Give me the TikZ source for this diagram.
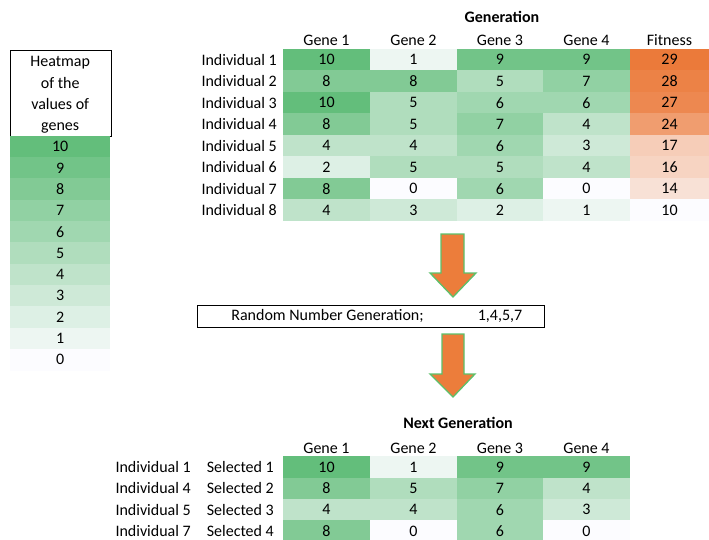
\documentclass[tikz,border=0pt]{standalone}
\usepackage{fontspec}
\setmainfont{Carlito}
\definecolor{hg}{HTML}{63BE7B}
\definecolor{hw}{HTML}{FCFCFF}
\definecolor{ho}{HTML}{EB7A3A}
\definecolor{arrfill}{HTML}{EC7D3B}
\definecolor{arredge}{HTML}{5CC06A}
\begin{document}
\begin{tikzpicture}[x=1pt,y=-1pt,
  every node/.style={font=\fontsize{16}{21}\selectfont, inner sep=0pt},
  cell/.style={rectangle, minimum height=21.6pt, anchor=center},
  gcellw/.style={cell, minimum width=87pt},
  fcellw/.style={cell, minimum width=79pt},
  lab/.style={anchor=east},
  hdr/.style={anchor=center},
  ttl/.style={anchor=center, font=\fontsize{16}{21}\selectfont\bfseries},
  blockarrow/.style={fill=arrfill, draw=arredge, line width=1.3pt, line join=miter},
  frame/.style={draw=black, line width=1.1pt}]
\useasboundingbox (0,0) rectangle (709,540);

% ---------- legend ----------
\node[frame, rectangle, minimum width=100.5pt, minimum height=86pt, anchor=north west] (legbox) at (10,50) {};
\node[align=center, anchor=center, font=\fontsize{16}{21.3}\selectfont] (legtxt) at (60.2,95) {Heatmap\\of the\\values of\\genes};
\foreach \v [count=\i from 0] in {10,9,8,7,6,5,4,3,2,1,0} {
  \pgfmathtruncatemacro\pc{\v*10}
  \node[cell, minimum width=100.5pt, fill=hg!\pc!hw] (leg\v) at (60.2,{146.7+21.3*\i}) {\v};
}

% ---------- generation table ----------
\node[ttl] (gtitle) at (502,17) {Generation};
\foreach \h/\x [count=\k] in {Gene 1/326.5, Gene 2/413.5, Gene 3/500, Gene 4/586.5} {
  \node[hdr] (gh\k) at (\x,40) {\h};
}
\node[hdr] (ghf) at (669.5,40) {Fitness};

\foreach \a/\b/\c/\d/\f [count=\r] in {10/1/9/9/29, 8/8/5/7/28, 10/5/6/6/27, 8/5/7/4/24, 4/4/6/3/17, 2/5/5/4/16, 8/0/6/0/14, 4/3/2/1/10} {
  \pgfmathsetmacro\yy{49+21.5*(\r-1)+10.75}
  \node[lab] (gl\r) at (277,\yy) {Individual \r};
  \pgfmathtruncatemacro\pa{\a*10}
  \pgfmathtruncatemacro\pb{\b*10}
  \pgfmathtruncatemacro\pcc{\c*10}
  \pgfmathtruncatemacro\pd{\d*10}
  \pgfmathtruncatemacro\pf{(\f-10)*100/19}
  \node[gcellw, fill=hg!\pa!hw] (g\r a) at (326.5,\yy) {\a};
  \node[gcellw, fill=hg!\pb!hw] (g\r b) at (413.5,\yy) {\b};
  \node[gcellw, fill=hg!\pcc!hw] (g\r c) at (500,\yy) {\c};
  \node[gcellw, fill=hg!\pd!hw] (g\r d) at (586.5,\yy) {\d};
  \node[fcellw, fill=ho!\pf!hw] (g\r f) at (669.5,\yy) {\f};
}

% ---------- arrows and random-number box ----------
\draw[blockarrow] (441,234) -- (464,234) -- (464,273) -- (476,273) -- (453,297) -- (430,273) -- (441,273) -- cycle;
\node[frame, rectangle, minimum width=347pt, minimum height=22pt, anchor=north west] (rbox) at (197,305) {};
\node[anchor=center] (rtxt) at (327.5,316) {Random Number Generation;};
\node[anchor=center] (rnums) at (500,316) {1,4,5,7};
\draw[blockarrow] (442,334) -- (464,334) -- (464,374) -- (475,374) -- (453,397) -- (430,374) -- (442,374) -- cycle;

% ---------- next generation table ----------
\node[ttl] (ntitle) at (458,423) {Next Generation};
\foreach \h/\x [count=\k] in {Gene 1/326.5, Gene 2/413.5, Gene 3/500, Gene 4/586.5} {
  \node[hdr] (nh\k) at (\x,448) {\h};
}
\foreach \ind/\a/\b/\c/\d [count=\r] in {1/10/1/9/9, 4/8/5/7/4, 5/4/4/6/3, 7/8/0/6/0} {
  \pgfmathsetmacro\yy{456.5+21.3*(\r-1)+10.65}
  \node[lab] (nl\r) at (191,\yy) {Individual \ind};
  \node[lab] (ns\r) at (274,\yy) {Selected \r};
  \pgfmathtruncatemacro\pa{\a*10}
  \pgfmathtruncatemacro\pb{\b*10}
  \pgfmathtruncatemacro\pcc{\c*10}
  \pgfmathtruncatemacro\pd{\d*10}
  \node[gcellw, fill=hg!\pa!hw] (n\r a) at (326.5,\yy) {\a};
  \node[gcellw, fill=hg!\pb!hw] (n\r b) at (413.5,\yy) {\b};
  \node[gcellw, fill=hg!\pcc!hw] (n\r c) at (500,\yy) {\c};
  \node[gcellw, fill=hg!\pd!hw] (n\r d) at (586.5,\yy) {\d};
}
\end{tikzpicture}
\end{document}
